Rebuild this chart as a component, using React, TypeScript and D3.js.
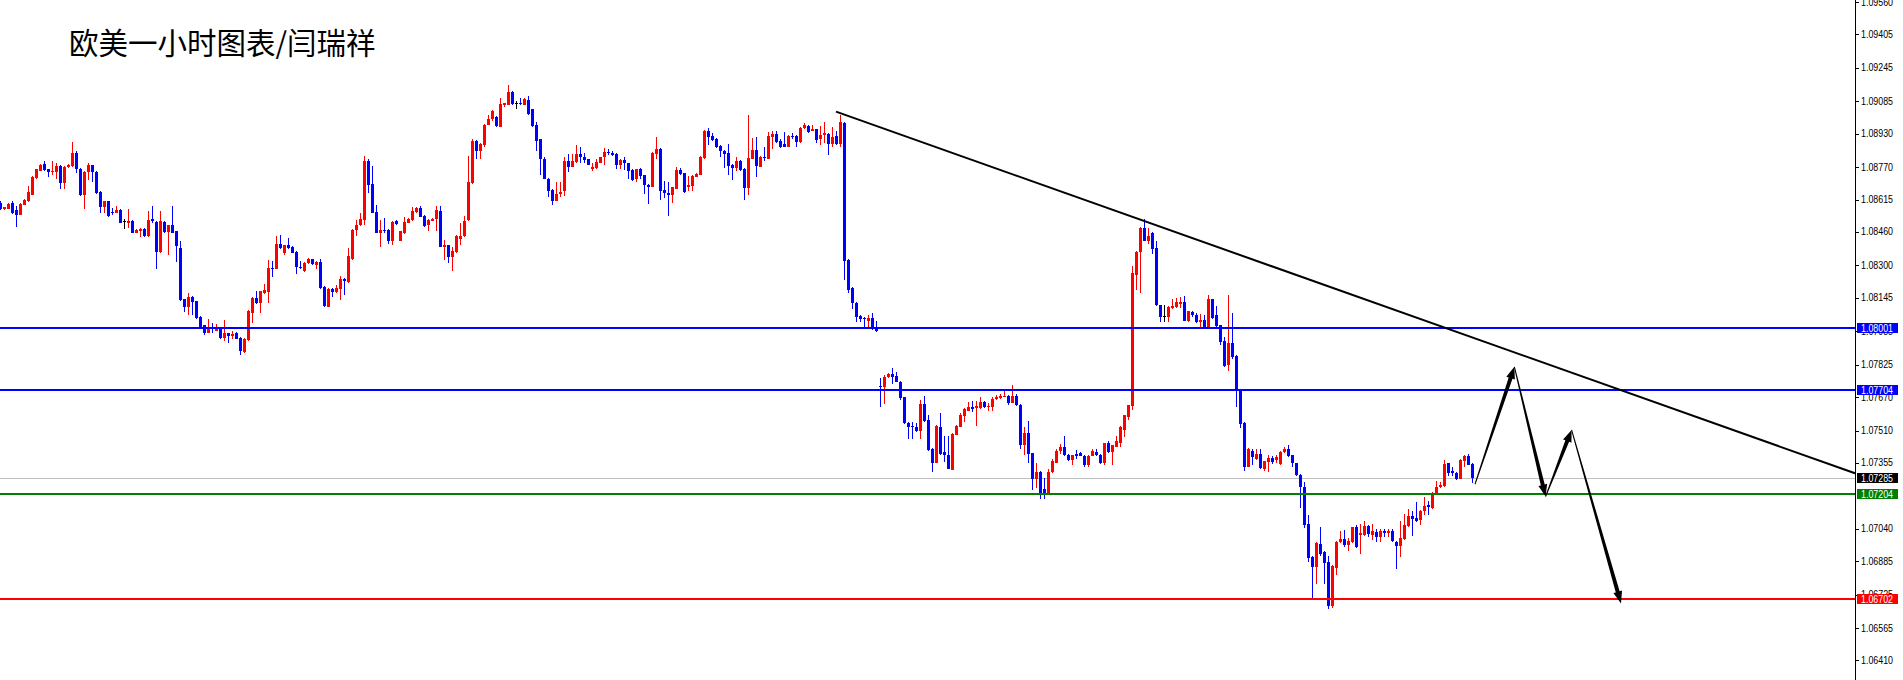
import { useEffect, useRef } from 'react'
import * as d3 from 'd3'

// open, high, low, close (EURUSD H1)
type Bar = [number, number, number, number]

const barsA: Bar[] = [
  [1.08600, 1.08607, 1.08565, 1.08569], [1.08569, 1.08581, 1.08565, 1.08578], [1.08572, 1.08597, 1.08569, 1.08594],
  [1.08600, 1.08607, 1.08546, 1.08553], [1.08565, 1.08584, 1.08486, 1.08543], [1.08543, 1.08597, 1.08540, 1.08594],
  [1.08591, 1.08616, 1.08588, 1.08613], [1.08607, 1.08680, 1.08604, 1.08651], [1.08639, 1.08728, 1.08636, 1.08725],
  [1.08718, 1.08763, 1.08715, 1.08760], [1.08754, 1.08785, 1.08750, 1.08782], [1.08785, 1.08798, 1.08754, 1.08757],
  [1.08760, 1.08763, 1.08725, 1.08747], [1.08747, 1.08798, 1.08731, 1.08754], [1.08747, 1.08792, 1.08715, 1.08776],
  [1.08776, 1.08779, 1.08667, 1.08696], [1.08696, 1.08776, 1.08667, 1.08773], [1.08770, 1.08785, 1.08767, 1.08782],
  [1.08776, 1.08891, 1.08773, 1.08836], [1.08840, 1.08846, 1.08744, 1.08763], [1.08763, 1.08766, 1.08633, 1.08636],
  [1.08639, 1.08750, 1.08572, 1.08747], [1.08747, 1.08792, 1.08709, 1.08779], [1.08779, 1.08782, 1.08699, 1.08747],
  [1.08747, 1.08750, 1.08642, 1.08648], [1.08651, 1.08654, 1.08549, 1.08581], [1.08581, 1.08610, 1.08553, 1.08607],
  [1.08607, 1.08610, 1.08534, 1.08537], [1.08556, 1.08575, 1.08540, 1.08549], [1.08553, 1.08584, 1.08550, 1.08565],
  [1.08565, 1.08568, 1.08502, 1.08505], [1.08511, 1.08521, 1.08473, 1.08511], [1.08505, 1.08569, 1.08479, 1.08511],
  [1.08514, 1.08517, 1.08454, 1.08457], [1.08457, 1.08473, 1.08454, 1.08470], [1.08466, 1.08479, 1.08438, 1.08476],
  [1.08476, 1.08479, 1.08438, 1.08441], [1.08441, 1.08562, 1.08438, 1.08517], [1.08521, 1.08584, 1.08502, 1.08514],
  [1.08508, 1.08511, 1.08285, 1.08364], [1.08364, 1.08562, 1.08361, 1.08514], [1.08508, 1.08511, 1.08457, 1.08460],
  [1.08460, 1.08495, 1.08348, 1.08492], [1.08492, 1.08584, 1.08454, 1.08457], [1.08463, 1.08466, 1.08317, 1.08393],
  [1.08384, 1.08419, 1.08132, 1.08135], [1.08138, 1.08141, 1.08077, 1.08103], [1.08103, 1.08167, 1.08065, 1.08147],
  [1.08150, 1.08154, 1.08065, 1.08125], [1.08128, 1.08131, 1.08042, 1.08049], [1.08055, 1.08058, 1.07994, 1.08007],
  [1.08013, 1.08016, 1.07969, 1.07978], [1.07978, 1.08042, 1.07975, 1.08004], [1.08007, 1.08026, 1.07975, 1.07998],
  [1.07988, 1.08020, 1.07985, 1.07998], [1.08004, 1.08007, 1.07950, 1.07953], [1.07953, 1.08039, 1.07937, 1.07978],
  [1.07975, 1.07978, 1.07931, 1.07962], [1.07962, 1.07985, 1.07950, 1.07972], [1.07978, 1.07981, 1.07947, 1.07950],
  [1.07953, 1.07956, 1.07873, 1.07892], [1.07886, 1.07953, 1.07883, 1.07950], [1.07943, 1.08087, 1.07940, 1.08084],
  [1.08074, 1.08147, 1.08026, 1.08144], [1.08144, 1.08176, 1.08116, 1.08119], [1.08119, 1.08179, 1.08074, 1.08176],
  [1.08167, 1.08211, 1.08164, 1.08183], [1.08173, 1.08326, 1.08122, 1.08288], [1.08288, 1.08323, 1.08246, 1.08285],
  [1.08285, 1.08441, 1.08282, 1.08403], [1.08403, 1.08444, 1.08381, 1.08384], [1.08361, 1.08399, 1.08352, 1.08396],
  [1.08396, 1.08431, 1.08381, 1.08384], [1.08390, 1.08393, 1.08358, 1.08361], [1.08364, 1.08367, 1.08259, 1.08294],
  [1.08294, 1.08323, 1.08285, 1.08288], [1.08272, 1.08316, 1.08269, 1.08313], [1.08310, 1.08335, 1.08307, 1.08332],
  [1.08329, 1.08332, 1.08304, 1.08307], [1.08304, 1.08320, 1.08285, 1.08317], [1.08317, 1.08332, 1.08189, 1.08192],
  [1.08198, 1.08201, 1.08103, 1.08106], [1.08103, 1.08192, 1.08100, 1.08189], [1.08189, 1.08192, 1.08147, 1.08173],
  [1.08173, 1.08208, 1.08170, 1.08192], [1.08189, 1.08250, 1.08135, 1.08234], [1.08237, 1.08240, 1.08160, 1.08224],
  [1.08221, 1.08384, 1.08218, 1.08345], [1.08329, 1.08473, 1.08326, 1.08470], [1.08470, 1.08517, 1.08441, 1.08492],
  [1.08492, 1.08553, 1.08489, 1.08521], [1.08517, 1.08824, 1.08492, 1.08801], [1.08801, 1.08808, 1.08648, 1.08683],
  [1.08690, 1.08776, 1.08550, 1.08553], [1.08556, 1.08591, 1.08454, 1.08457], [1.08457, 1.08517, 1.08390, 1.08470],
  [1.08470, 1.08527, 1.08454, 1.08466], [1.08470, 1.08473, 1.08403, 1.08419], [1.08419, 1.08511, 1.08399, 1.08508],
  [1.08514, 1.08517, 1.08495, 1.08498], [1.08419, 1.08466, 1.08416, 1.08463], [1.08454, 1.08530, 1.08451, 1.08508],
  [1.08505, 1.08527, 1.08502, 1.08524], [1.08517, 1.08578, 1.08514, 1.08559], [1.08556, 1.08578, 1.08553, 1.08575],
  [1.08575, 1.08584, 1.08530, 1.08533], [1.08537, 1.08540, 1.08486, 1.08489], [1.08492, 1.08520, 1.08466, 1.08517],
  [1.08514, 1.08527, 1.08511, 1.08524], [1.08521, 1.08584, 1.08466, 1.08565], [1.08562, 1.08584, 1.08387, 1.08390],
  [1.08390, 1.08422, 1.08326, 1.08396], [1.08396, 1.08399, 1.08313, 1.08342],
]

const barsB: Bar[] = [
  [1.08342, 1.08390, 1.08272, 1.08367], [1.08364, 1.08447, 1.08361, 1.08441], [1.08428, 1.08501, 1.08399, 1.08441],
  [1.08441, 1.08536, 1.08438, 1.08514], [1.08517, 1.08823, 1.08514, 1.08699], [1.08693, 1.08906, 1.08690, 1.08897],
  [1.08897, 1.08900, 1.08811, 1.08849], [1.08849, 1.08884, 1.08811, 1.08881], [1.08878, 1.08976, 1.08865, 1.08973],
  [1.08973, 1.09021, 1.08970, 1.08999], [1.08999, 1.09043, 1.08989, 1.09040], [1.09012, 1.09015, 1.08964, 1.08967],
  [1.08964, 1.09101, 1.08961, 1.09072], [1.09069, 1.09078, 1.09060, 1.09075], [1.09069, 1.09162, 1.09066, 1.09130],
  [1.09130, 1.09133, 1.09069, 1.09072], [1.09075, 1.09085, 1.09050, 1.09075], [1.09079, 1.09101, 1.09069, 1.09072],
  [1.09069, 1.09101, 1.09066, 1.09098], [1.09091, 1.09111, 1.09021, 1.09024], [1.09047, 1.09050, 1.08964, 1.08967],
  [1.08973, 1.08986, 1.08846, 1.08897], [1.08903, 1.08906, 1.08734, 1.08808], [1.08811, 1.08820, 1.08712, 1.08715],
  [1.08715, 1.08718, 1.08626, 1.08658], [1.08661, 1.08664, 1.08587, 1.08610], [1.08610, 1.08699, 1.08607, 1.08642],
  [1.08642, 1.08699, 1.08629, 1.08651], [1.08658, 1.08820, 1.08632, 1.08798], [1.08798, 1.08833, 1.08747, 1.08772],
  [1.08772, 1.08833, 1.08769, 1.08798], [1.08795, 1.08875, 1.08792, 1.08833], [1.08833, 1.08865, 1.08792, 1.08820],
  [1.08817, 1.08836, 1.08788, 1.08804], [1.08808, 1.08811, 1.08779, 1.08782], [1.08763, 1.08788, 1.08753, 1.08769],
  [1.08766, 1.08808, 1.08760, 1.08795], [1.08792, 1.08820, 1.08789, 1.08817], [1.08817, 1.08862, 1.08782, 1.08843],
  [1.08843, 1.08859, 1.08827, 1.08836], [1.08836, 1.08849, 1.08823, 1.08830], [1.08833, 1.08836, 1.08760, 1.08782],
  [1.08782, 1.08811, 1.08763, 1.08804], [1.08804, 1.08817, 1.08756, 1.08788], [1.08788, 1.08791, 1.08712, 1.08753],
  [1.08756, 1.08759, 1.08702, 1.08709], [1.08712, 1.08763, 1.08699, 1.08760], [1.08760, 1.08766, 1.08715, 1.08728],
  [1.08731, 1.08734, 1.08642, 1.08683], [1.08686, 1.08689, 1.08594, 1.08677], [1.08677, 1.08842, 1.08674, 1.08839],
  [1.08833, 1.08913, 1.08811, 1.08855], [1.08859, 1.08862, 1.08613, 1.08658], [1.08661, 1.08705, 1.08623, 1.08645],
  [1.08645, 1.08699, 1.08536, 1.08638], [1.08638, 1.08677, 1.08600, 1.08674], [1.08667, 1.08769, 1.08664, 1.08756],
  [1.08756, 1.08766, 1.08734, 1.08737], [1.08741, 1.08744, 1.08648, 1.08651], [1.08674, 1.08728, 1.08658, 1.08683],
  [1.08680, 1.08731, 1.08658, 1.08728], [1.08725, 1.08744, 1.08722, 1.08737], [1.08734, 1.08823, 1.08731, 1.08820],
  [1.08814, 1.08948, 1.08811, 1.08945], [1.08945, 1.08957, 1.08878, 1.08916], [1.08919, 1.08935, 1.08897, 1.08900],
  [1.08906, 1.08909, 1.08862, 1.08868], [1.08871, 1.08874, 1.08817, 1.08846], [1.08849, 1.08852, 1.08766, 1.08833],
  [1.08836, 1.08881, 1.08731, 1.08776], [1.08782, 1.08785, 1.08709, 1.08766], [1.08766, 1.08817, 1.08753, 1.08798],
  [1.08801, 1.08804, 1.08753, 1.08756], [1.08763, 1.08766, 1.08613, 1.08670], [1.08670, 1.09021, 1.08638, 1.08814],
  [1.08811, 1.08910, 1.08808, 1.08852], [1.08852, 1.08916, 1.08721, 1.08776], [1.08772, 1.08823, 1.08769, 1.08820],
  [1.08817, 1.08868, 1.08801, 1.08814], [1.08811, 1.08938, 1.08808, 1.08919], [1.08916, 1.08942, 1.08859, 1.08929],
  [1.08929, 1.08942, 1.08887, 1.08890], [1.08894, 1.08906, 1.08862, 1.08865], [1.08881, 1.08938, 1.08865, 1.08868],
  [1.08868, 1.08922, 1.08865, 1.08919], [1.08919, 1.08932, 1.08906, 1.08916], [1.08919, 1.08922, 1.08865, 1.08890],
  [1.08890, 1.08960, 1.08887, 1.08957], [1.08957, 1.08980, 1.08954, 1.08973], [1.08967, 1.08970, 1.08935, 1.08938],
  [1.08945, 1.08973, 1.08942, 1.08954], [1.08951, 1.08954, 1.08887, 1.08900], [1.08906, 1.08967, 1.08875, 1.08926],
  [1.08922, 1.08986, 1.08887, 1.08932], [1.08929, 1.08932, 1.08830, 1.08881], [1.08881, 1.08961, 1.08868, 1.08916],
  [1.08919, 1.08942, 1.08878, 1.08881], [1.08881, 1.09018, 1.08868, 1.08986], [1.08983, 1.08986, 1.08230, 1.08323],
  [1.08326, 1.08329, 1.08170, 1.08182], [1.08192, 1.08195, 1.08093, 1.08118], [1.08122, 1.08125, 1.08029, 1.08055],
]

const barsC: Bar[] = [
  [1.08058, 1.08061, 1.08027, 1.08046], [1.08049, 1.08052, 1.07998, 1.08042], [1.08036, 1.08065, 1.08001, 1.08049],
  [1.08049, 1.08071, 1.07992, 1.07995], [1.07998, 1.08033, 1.07982, 1.07985], [1.07723, 1.07762, 1.07621, 1.07717],
  [1.07717, 1.07778, 1.07637, 1.07768], [1.07765, 1.07787, 1.07762, 1.07781], [1.07781, 1.07810, 1.07733, 1.07768],
  [1.07771, 1.07790, 1.07740, 1.07743], [1.07743, 1.07746, 1.07656, 1.07666], [1.07669, 1.07672, 1.07542, 1.07545],
  [1.07545, 1.07551, 1.07468, 1.07529], [1.07532, 1.07551, 1.07468, 1.07526], [1.07529, 1.07548, 1.07504, 1.07507],
  [1.07507, 1.07656, 1.07468, 1.07637], [1.07637, 1.07676, 1.07551, 1.07554], [1.07561, 1.07583, 1.07414, 1.07417],
  [1.07424, 1.07427, 1.07312, 1.07357], [1.07357, 1.07538, 1.07354, 1.07532], [1.07529, 1.07596, 1.07395, 1.07398],
  [1.07405, 1.07484, 1.07360, 1.07392], [1.07395, 1.07484, 1.07325, 1.07328], [1.07322, 1.07497, 1.07319, 1.07494],
  [1.07491, 1.07535, 1.07488, 1.07532], [1.07529, 1.07596, 1.07526, 1.07583], [1.07580, 1.07618, 1.07551, 1.07615],
  [1.07605, 1.07647, 1.07602, 1.07625], [1.07625, 1.07650, 1.07599, 1.07615], [1.07618, 1.07650, 1.07532, 1.07628],
  [1.07618, 1.07672, 1.07615, 1.07647], [1.07647, 1.07650, 1.07618, 1.07625], [1.07625, 1.07644, 1.07602, 1.07628],
  [1.07625, 1.07669, 1.07605, 1.07663], [1.07660, 1.07679, 1.07657, 1.07672], [1.07666, 1.07685, 1.07660, 1.07676],
  [1.07672, 1.07701, 1.07669, 1.07676], [1.07676, 1.07679, 1.07631, 1.07644], [1.07644, 1.07730, 1.07641, 1.07676],
  [1.07676, 1.07685, 1.07628, 1.07631], [1.07634, 1.07637, 1.07424, 1.07443], [1.07443, 1.07529, 1.07392, 1.07500],
  [1.07500, 1.07558, 1.07353, 1.07398], [1.07401, 1.07404, 1.07226, 1.07277], [1.07277, 1.07357, 1.07235, 1.07312],
  [1.07312, 1.07315, 1.07181, 1.07207], [1.07232, 1.07283, 1.07184, 1.07213], [1.07210, 1.07328, 1.07207, 1.07312],
  [1.07312, 1.07376, 1.07309, 1.07363], [1.07357, 1.07420, 1.07354, 1.07414], [1.07411, 1.07446, 1.07398, 1.07430],
  [1.07430, 1.07484, 1.07389, 1.07392], [1.07395, 1.07398, 1.07366, 1.07369], [1.07369, 1.07395, 1.07344, 1.07392],
  [1.07398, 1.07417, 1.07376, 1.07389], [1.07401, 1.07405, 1.07386, 1.07389], [1.07389, 1.07392, 1.07334, 1.07347],
  [1.07347, 1.07392, 1.07337, 1.07389], [1.07389, 1.07420, 1.07386, 1.07414], [1.07408, 1.07420, 1.07389, 1.07392],
  [1.07395, 1.07398, 1.07350, 1.07357], [1.07353, 1.07452, 1.07344, 1.07449], [1.07452, 1.07462, 1.07402, 1.07405],
  [1.07405, 1.07443, 1.07344, 1.07440], [1.07433, 1.07484, 1.07430, 1.07459], [1.07449, 1.07532, 1.07430, 1.07529],
  [1.07513, 1.07586, 1.07481, 1.07583], [1.07577, 1.07634, 1.07561, 1.07631],
]

const barsD: Bar[] = [
  [1.07627, 1.08297, 1.07608, 1.08265], [1.08256, 1.08367, 1.08182, 1.08364], [1.08364, 1.08482, 1.08170, 1.08479],
  [1.08479, 1.08520, 1.08415, 1.08418], [1.08418, 1.08479, 1.08402, 1.08441], [1.08457, 1.08460, 1.08355, 1.08377],
  [1.08383, 1.08418, 1.08106, 1.08109], [1.08109, 1.08112, 1.08029, 1.08055], [1.08058, 1.08109, 1.08029, 1.08058],
  [1.08055, 1.08106, 1.08029, 1.08103], [1.08096, 1.08141, 1.08093, 1.08106], [1.08099, 1.08144, 1.08096, 1.08125],
  [1.08115, 1.08150, 1.08096, 1.08125], [1.08125, 1.08154, 1.08033, 1.08036], [1.08036, 1.08083, 1.08029, 1.08080],
  [1.08077, 1.08080, 1.08055, 1.08061], [1.08064, 1.08071, 1.08026, 1.08029], [1.08029, 1.08068, 1.08001, 1.08039],
  [1.08039, 1.08064, 1.07998, 1.08001], [1.08001, 1.08157, 1.07998, 1.08138], [1.08138, 1.08141, 1.08045, 1.08048],
  [1.08061, 1.08106, 1.08004, 1.08010], [1.08013, 1.08016, 1.07921, 1.07934], [1.07937, 1.07956, 1.07812, 1.07819],
  [1.07822, 1.08157, 1.07796, 1.07927], [1.07927, 1.08071, 1.07851, 1.07863], [1.07867, 1.07870, 1.07621, 1.07707],
  [1.07707, 1.07710, 1.07522, 1.07541], [1.07548, 1.07551, 1.07315, 1.07337], [1.07337, 1.07426, 1.07334, 1.07420],
  [1.07410, 1.07423, 1.07347, 1.07382], [1.07372, 1.07423, 1.07369, 1.07398], [1.07398, 1.07420, 1.07328, 1.07331],
  [1.07327, 1.07366, 1.07315, 1.07363], [1.07359, 1.07394, 1.07311, 1.07378], [1.07378, 1.07388, 1.07350, 1.07359],
  [1.07369, 1.07391, 1.07356, 1.07382], [1.07350, 1.07410, 1.07347, 1.07407], [1.07407, 1.07430, 1.07404, 1.07423],
  [1.07423, 1.07439, 1.07385, 1.07388], [1.07391, 1.07394, 1.07337, 1.07353], [1.07353, 1.07356, 1.07293, 1.07296],
  [1.07299, 1.07302, 1.07140, 1.07239], [1.07239, 1.07264, 1.07044, 1.07060], [1.07063, 1.07105, 1.06881, 1.06900],
  [1.06907, 1.06910, 1.06703, 1.06859], [1.06859, 1.06977, 1.06776, 1.06974], [1.06967, 1.07047, 1.06910, 1.06920],
  [1.06929, 1.06932, 1.06776, 1.06875], [1.06881, 1.06910, 1.06658, 1.06671], [1.06671, 1.06865, 1.06661, 1.06862],
  [1.06853, 1.06980, 1.06821, 1.06977], [1.06977, 1.07031, 1.06974, 1.06993], [1.06990, 1.07034, 1.06951, 1.06964],
  [1.06964, 1.06996, 1.06932, 1.06983], [1.06977, 1.07050, 1.06974, 1.07047], [1.07047, 1.07060, 1.06948, 1.06951],
  [1.07012, 1.07063, 1.06920, 1.07018], [1.07012, 1.07076, 1.07006, 1.07053], [1.07053, 1.07056, 1.06999, 1.07015],
  [1.07009, 1.07063, 1.06986, 1.07031], [1.07025, 1.07038, 1.06977, 1.06999], [1.06999, 1.07038, 1.06977, 1.07031],
  [1.07031, 1.07041, 1.06999, 1.07022], [1.07022, 1.07041, 1.06999, 1.07031], [1.07031, 1.07038, 1.06977, 1.06980],
  [1.06977, 1.06980, 1.06849, 1.06958], [1.06958, 1.07079, 1.06904, 1.06996], [1.06990, 1.07111, 1.06987, 1.07060],
  [1.07053, 1.07133, 1.07050, 1.07101], [1.07101, 1.07127, 1.07006, 1.07089], [1.07092, 1.07168, 1.07073, 1.07076],
  [1.07082, 1.07130, 1.07057, 1.07127], [1.07124, 1.07194, 1.07105, 1.07149], [1.07152, 1.07172, 1.07105, 1.07146],
  [1.07140, 1.07216, 1.07136, 1.07213], [1.07210, 1.07267, 1.07207, 1.07239], [1.07239, 1.07264, 1.07236, 1.07248],
  [1.07245, 1.07369, 1.07242, 1.07350], [1.07353, 1.07356, 1.07293, 1.07309], [1.07315, 1.07337, 1.07293, 1.07309],
  [1.07309, 1.07312, 1.07274, 1.07280], [1.07280, 1.07372, 1.07277, 1.07369], [1.07366, 1.07395, 1.07334, 1.07388],
  [1.07388, 1.07398, 1.07344, 1.07347], [1.07350, 1.07353, 1.07258, 1.07285],
]

// horizontal support / resistance lines
const levelPrices = [1.08001, 1.07704, 1.07204, 1.06702]
const levelColors = ['#0000ff', '#0000ff', '#008000', '#ff0000']
const bidPrice = 1.07285

// the 1.07195 grid label is completely hidden by the green tag in the reference
const tickValues = [
  1.0956, 1.09405, 1.09245, 1.09085, 1.0893, 1.0877, 1.08615, 1.0846, 1.083, 1.08145, 1.07985,
  1.07825, 1.0767, 1.0751, 1.07355, 1.0704, 1.06885, 1.06725, 1.06565, 1.0641,
]

// trend line anchors: [bar index, price]
const trendAnchors: [number, number][] = [
  [209, 1.09036],
  [460, 1.07331],
]

// projected path drawn with arrows: [bar index, price]
const arrowPoints: [number, number][] = [
  [368.75, 1.07253],
  [378.6, 1.07815],
  [386.4, 1.07194],
  [392.9, 1.07513],
  [405.25, 1.06683],
]

const title = '欧美一小时图表/闫瑞祥'

const App = () => {
  const svgRef = useRef<SVGSVGElement>(null)

  useEffect(() => {
    const width = 1903
    const height = 680
    const axisX = 1855
    const bars = [...barsA, ...barsB, ...barsC, ...barsD]

    const x = d3.scaleLinear().domain([0, 463.75]).range([0, axisX])
    const y = d3.scaleLinear().domain([1.063164, 1.0957]).range([height, 0])

    const svg = d3.select(svgRef.current)
    svg.selectAll('*').remove()
    svg.attr('width', width).attr('height', height)

    svg.append('rect').attr('width', width).attr('height', height).attr('fill', '#ffffff')

    // current bid line
    svg
      .append('rect')
      .attr('x', 0)
      .attr('y', Math.round(y(bidPrice)))
      .attr('width', axisX)
      .attr('height', 1)
      .attr('fill', '#c0c0c0')

    const colorOf = (b: Bar) => (b[3] > b[0] ? '#ff0000' : b[3] < b[0] ? '#0000ff' : '#000000')

    // candles
    const g = svg.append('g').attr('shape-rendering', 'crispEdges')
    g.selectAll('rect.wick')
      .data(bars)
      .join('rect')
      .attr('class', 'wick')
      .attr('x', (_, i) => Math.round(x(i)))
      .attr('y', (d) => Math.round(y(d[1])))
      .attr('width', 1)
      .attr('height', (d) => Math.max(1, Math.round(y(d[2])) - Math.round(y(d[1]))))
      .attr('fill', colorOf)
    g.selectAll('rect.body')
      .data(bars)
      .join('rect')
      .attr('class', 'body')
      .attr('x', (_, i) => Math.round(x(i)) - 1)
      .attr('y', (d) => Math.round(y(Math.max(d[0], d[3]))))
      .attr('width', 3)
      .attr('height', (d) =>
        Math.max(1, Math.round(y(Math.min(d[0], d[3]))) - Math.round(y(Math.max(d[0], d[3])))),
      )
      .attr('fill', colorOf)

    // horizontal levels
    svg
      .append('g')
      .attr('shape-rendering', 'crispEdges')
      .selectAll('rect')
      .data(levelPrices)
      .join('rect')
      .attr('x', 0)
      .attr('y', (d) => Math.round(y(d)) - 1)
      .attr('width', axisX)
      .attr('height', 2)
      .attr('fill', (_, i) => levelColors[i])

    // trend line, extended to the price axis
    const [a0, a1] = trendAnchors
    const slope = (y(a1[1]) - y(a0[1])) / (x(a1[0]) - x(a0[0]))
    const tx0 = x(a0[0])
    const ty0 = y(a0[1])
    svg
      .append('line')
      .attr('x1', tx0)
      .attr('y1', ty0)
      .attr('x2', axisX)
      .attr('y2', ty0 + slope * (axisX - tx0))
      .attr('stroke', '#000000')
      .attr('stroke-width', 2)

    // tapered arrows
    const arrowShape = (p: [number, number], q: [number, number]) => {
      const px = x(p[0])
      const py = y(p[1])
      const qx = x(q[0])
      const qy = y(q[1])
      const len = Math.hypot(qx - px, qy - py)
      const ux = (qx - px) / len
      const uy = (qy - py) / len
      const nx = -uy
      const ny = ux
      const head = 12
      const bx = qx - ux * head
      const by = qy - uy * head
      const pts: [number, number][] = [
        [px + nx * 0.5, py + ny * 0.5],
        [bx + nx * 2, by + ny * 2],
        [bx + nx * 4.5, by + ny * 4.5],
        [qx, qy],
        [bx - nx * 4.5, by - ny * 4.5],
        [bx - nx * 2, by - ny * 2],
        [px - nx * 0.5, py - ny * 0.5],
      ]
      return pts.map((d) => d.join(',')).join(' ')
    }
    svg
      .append('g')
      .selectAll('polygon')
      .data(d3.pairs(arrowPoints))
      .join('polygon')
      .attr('points', (d) => arrowShape(d[0], d[1]))
      .attr('fill', '#000000')

    // price axis
    const axis = svg.append('g').attr('shape-rendering', 'crispEdges')
    axis.append('rect').attr('x', axisX).attr('y', 0).attr('width', 1).attr('height', height).attr('fill', '#000000')
    axis
      .selectAll('rect.tick')
      .data(tickValues)
      .join('rect')
      .attr('class', 'tick')
      .attr('x', axisX + 1)
      .attr('y', (d) => Math.round(y(d)))
      .attr('width', 3)
      .attr('height', 1)
      .attr('fill', '#000000')
    svg
      .append('g')
      .selectAll('text')
      .data(tickValues)
      .join('text')
      .attr('x', 1861)
      .attr('y', (d) => y(d) + 3.5)
      .attr('font-family', '"Liberation Sans", Arial, sans-serif')
      .attr('font-size', 10)
      .attr('textLength', 32)
      .attr('lengthAdjust', 'spacingAndGlyphs')
      .attr('fill', '#000000')
      .text((d) => d.toFixed(5))

    // price labels for lines
    const tags = [
      ...levelPrices.map((p, i) => ({ p, c: levelColors[i] })),
      { p: bidPrice, c: '#000000' },
    ]
    const tagG = svg.append('g').selectAll('g').data(tags).join('g')
    tagG
      .append('rect')
      .attr('shape-rendering', 'crispEdges')
      .attr('x', axisX + 2)
      .attr('y', (d) => Math.round(y(d.p)) - 5)
      .attr('width', 41)
      .attr('height', 10)
      .attr('fill', (d) => d.c)
    tagG
      .append('text')
      .attr('x', 1861)
      .attr('y', (d) => Math.round(y(d.p)) + 3.5)
      .attr('font-family', '"Liberation Sans", Arial, sans-serif')
      .attr('font-size', 10)
      .attr('textLength', 32)
      .attr('lengthAdjust', 'spacingAndGlyphs')
      .attr('fill', '#ffffff')
      .text((d) => d.p.toFixed(5))

    // title
    svg
      .append('text')
      .attr('x', 69)
      .attr('y', 54)
      .attr('font-family', '"Noto Sans CJK SC", sans-serif')
      .attr('font-size', 29.5)
      .attr('fill', '#000000')
      .text(title)
  }, [])

  return <svg ref={svgRef} style={{ position: 'fixed', left: 0, top: 0 }}></svg>
}

export default App
